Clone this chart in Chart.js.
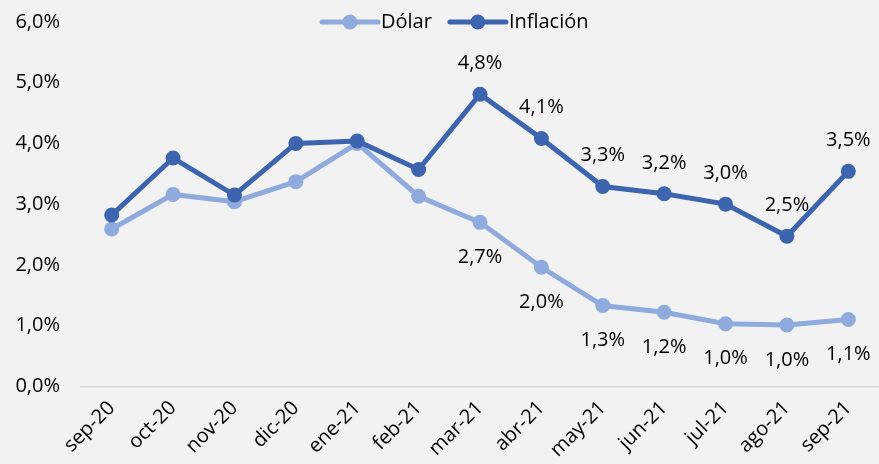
<!DOCTYPE html>
<html>
<head>
<meta charset="utf-8">
<script src="https://cdn.jsdelivr.net/npm/chart.js@4"></script>
<style>
  html, body { margin: 0; padding: 0; background: #f2f2f2; }
</style>
</head>
<body>
<canvas id="myChart" width="879" height="464"></canvas>
<script>
const months = ['sep-20', 'oct-20', 'nov-20', 'dic-20', 'ene-21', 'feb-21', 'mar-21', 'abr-21', 'may-21', 'jun-21', 'jul-21', 'ago-21', 'sep-21'];
const dolar = [2.59, 3.16, 3.04, 3.37, 4.0, 3.13, 2.7, 1.96, 1.33, 1.22, 1.03, 1.01, 1.1];
const inflacion = [2.82, 3.76, 3.15, 4.0, 4.04, 3.57, 4.81, 4.08, 3.29, 3.17, 3.0, 2.47, 3.54];
const seriesNames = ['Dólar', 'Inflación'];
const seriesColors = ['#8faadc', '#3d64ae'];
const firstLabelIdx = 6;

const FONT = '"Open Sans", Lato, sans-serif';
const FSIZE = 20;
const fmt = v => v.toFixed(1).replace('.', ',') + '%';

// value labels: inflation above, dollar below
const valueLabels = {
  id: 'valueLabels',
  afterDatasetsDraw(chart) {
    const ctx = chart.ctx;
    ctx.save();
    ctx.font = FSIZE + 'px ' + FONT;
    ctx.fillStyle = '#000';
    ctx.textAlign = 'center';
    ctx.textBaseline = 'middle';
    chart.data.datasets.forEach((ds, di) => {
      const meta = chart.getDatasetMeta(di);
      meta.data.forEach((pt, i) => {
        if (i < firstLabelIdx) return;
        const dy = ds.label === 'Inflación' ? -31 : 35;
        ctx.fillText(fmt(ds.data[i]), pt.x, pt.y + dy);
      });
    });
    ctx.restore();
  }
};

// legend drawn inside the plot, line + marker like the original
const lineLegend = {
  id: 'lineLegend',
  afterDraw(chart) {
    const ctx = chart.ctx;
    ctx.save();
    ctx.font = FSIZE + 'px ' + FONT;
    ctx.textBaseline = 'middle';
    ctx.textAlign = 'left';
    let x = 322;
    const y = 22;
    seriesNames.forEach((name, i) => {
      ctx.strokeStyle = seriesColors[i];
      ctx.lineWidth = 5;
      ctx.lineCap = 'round';
      ctx.beginPath();
      ctx.moveTo(x, y);
      ctx.lineTo(x + 56, y);
      ctx.stroke();
      ctx.fillStyle = seriesColors[i];
      ctx.beginPath();
      ctx.arc(x + 28, y, 7.5, 0, Math.PI * 2);
      ctx.fill();
      ctx.fillStyle = '#000';
      ctx.fillText(name, x + 59, y);
      x += 59 + ctx.measureText(name).width + 18;
    });
    ctx.restore();
  }
};

const bg = {
  id: 'bg',
  beforeDraw(chart) {
    const ctx = chart.ctx;
    ctx.save();
    ctx.fillStyle = '#f2f2f2';
    ctx.fillRect(0, 0, chart.width, chart.height);
    ctx.restore();
  }
};

const datasets = [
  { label: seriesNames[0], data: dolar, order: 1 },
  { label: seriesNames[1], data: inflacion, order: 0 }
].map((d, i) => Object.assign(d, {
  borderColor: seriesColors[i],
  backgroundColor: seriesColors[i],
  pointBackgroundColor: seriesColors[i],
  borderWidth: 5,
  pointRadius: 7.5,
  pointBorderWidth: 0,
  pointHoverRadius: 7.5,
  tension: 0,
  fill: false
}));

const ctx = document.getElementById('myChart');
new Chart(ctx, {
  type: 'line',
  data: { labels: months, datasets: datasets },
  options: {
    responsive: false,
    animation: false,
    layout: { autoPadding: false, padding: { left: 12, top: 22, right: -3, bottom: 0 } },
    plugins: {
      legend: { display: false },
      tooltip: { enabled: false }
    },
    scales: {
      x: {
        offset: true,
        grid: { display: false },
        border: { display: true, color: '#d9d9d9', width: 1.5 },
        ticks: {
          color: '#000',
          font: { family: FONT, size: FSIZE },
          maxRotation: 45,
          minRotation: 45,
          padding: 2
        },
        afterFit: s => { s.paddingLeft = 0; s.paddingRight = 0; }
      },
      y: {
        min: 0,
        max: 6,
        grid: { display: false },
        border: { display: false },
        ticks: {
          stepSize: 1,
          color: '#000',
          font: { family: FONT, size: FSIZE },
          padding: 13,
          callback: v => fmt(v)
        },
        afterFit: s => { s.width = 69; s.paddingTop = 0; s.paddingBottom = 0; }
      }
    }
  },
  plugins: [bg, valueLabels, lineLegend]
});
</script>
</body>
</html>
